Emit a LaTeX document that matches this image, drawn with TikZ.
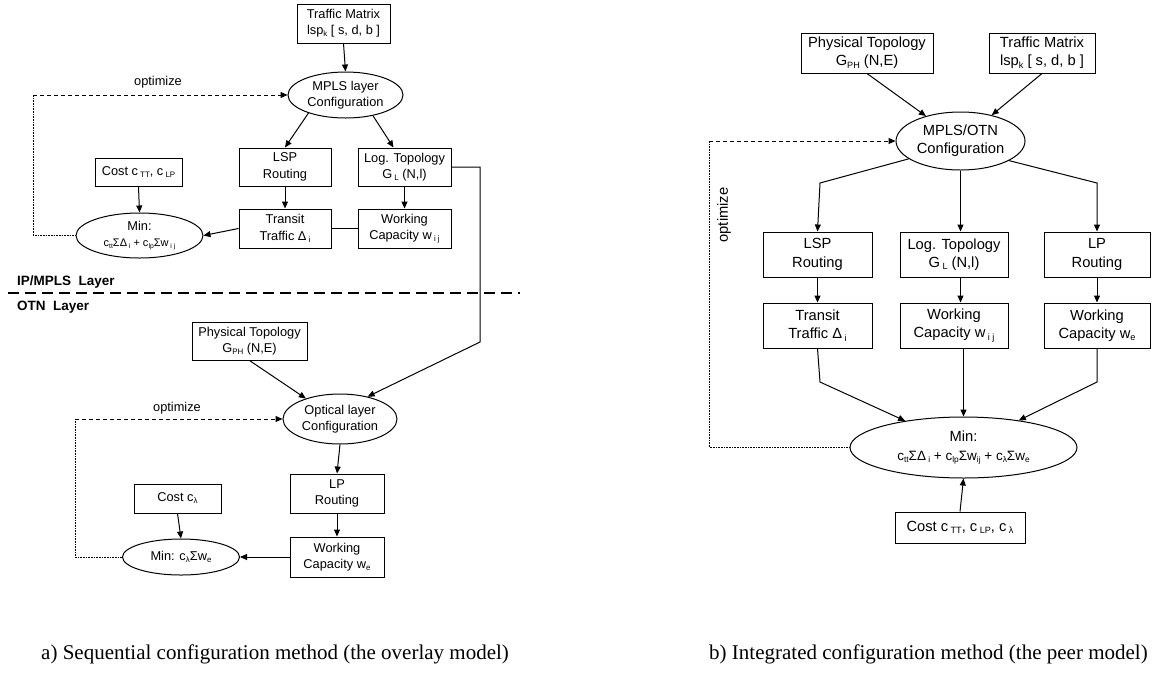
\documentclass[tikz,border=0pt]{standalone}
\usepackage{fontspec}
\setmainfont{Liberation Sans}
\newfontfamily\capfont{Liberation Serif}
\usepackage{graphicx}
\usetikzlibrary{shapes.geometric,arrows.meta}
\newcommand{\sbs}[1]{\raisebox{-0.3ex}{\scalebox{0.62}{#1}}}
\tikzset{
  box/.style={draw, fill=white, inner sep=0pt, align=center, line width=1pt},
  ell/.style={draw, ellipse, fill=white, inner sep=0pt, align=center, line width=1pt},
  fl/.style={font=\fontsize{12.8}{16.3}\selectfont},
  fr/.style={font=\fontsize{14.7}{18.3}\selectfont},
  arr/.style={-{Triangle[length=7pt,width=6pt]}, line width=1pt},
  optline/.style={dash pattern=on 4pt off 3pt},
  dotline/.style={dash pattern=on 0.8pt off 0.8pt, line width=0.8pt},
  layerlbl/.style={font=\fontsize{13.5}{16}\selectfont\bfseries, anchor=west, inner sep=0pt},
  caplbl/.style={font=\capfont\fontsize{21}{24}\selectfont, anchor=west, inner sep=0pt},
}
\begin{document}
\begin{tikzpicture}[x=1pt,y=-1pt]
\useasboundingbox (0,0) rectangle (1153,678);

% ---------------- left: overlay model ----------------
\node[box,fl,minimum width=93pt,minimum height=39pt] (tmL) at (343.5,23.5) {Traffic Matrix\\lsp\sbs{k} [ s, d, b ]};
\node[ell,fl,minimum width=115pt,minimum height=46pt] (mplsL) at (345.5,95) {MPLS layer\\Configuration};
\node[box,fl,minimum width=92pt,minimum height=38pt] (lspL) at (285,167) {LSP\\Routing};
\node[box,fl,minimum width=93pt,minimum height=38pt] (logL) at (404.5,167) {Log. Topology\\G\,\sbs{L} (N,l)};
\node[box,fl,minimum width=92pt,minimum height=39pt] (ttL) at (285,228.5) {Transit\\Traffic Δ\,\sbs{i}};
\node[box,fl,minimum width=93pt,minimum height=39pt] (wcL) at (404.5,228.5) {Working\\Capacity w\,\sbs{i j}};
\node[box,fl,minimum width=87pt,minimum height=28pt] (costL) at (138.5,172) {Cost c\,\sbs{TT}, c\,\sbs{LP}};
\node[ell,fl,minimum width=127pt,minimum height=45pt] (minL) at (139.5,235.5) {Min:\\{\fontsize{11}{14}\selectfont c\sbs{tt}ΣΔ\,\sbs{i} + c\sbs{lp}Σw\,\sbs{i j}}};
\node[fl] (optA) at (158,82) {optimize};

\node[layerlbl] (ipl) at (17,282) {IP/MPLS\ \ Layer};
\node[layerlbl] (otl) at (17,307) {OTN\ \ Layer};
\draw[line width=2.5pt, dash pattern=on 11pt off 6pt] (8,293) -- (520,293);

\node[box,fl,minimum width=115pt,minimum height=38pt] (phL) at (249.5,341) {Physical Topology\\G\sbs{PH} (N,E)};
\node[ell,fl,minimum width=114pt,minimum height=50pt] (optL) at (340,419) {Optical layer\\Configuration};
\node[box,fl,minimum width=94pt,minimum height=39pt] (lpL) at (337,493.5) {LP\\Routing};
\node[box,fl,minimum width=94pt,minimum height=40pt] (weL) at (337,557) {Working\\Capacity w\sbs{e}};
\node[box,fl,minimum width=87pt,minimum height=29pt] (costlL) at (177.5,498.5) {Cost c\sbs{λ}};
\node[ell,fl,minimum width=117pt,minimum height=36pt] (minlL) at (181,557) {Min: c\sbs{λ}Σw\sbs{e}};
\node[fl] (optB) at (177,408) {optimize};

\draw[arr] (tmL.south) -- (mplsL.north);
\draw[arr] (mplsL.206) -- (lspL.north);
\draw[arr] (mplsL.323) -- ([xshift=-11pt]logL.north);
\draw[arr] (lspL.south) -- (ttL.north);
\draw[arr] (logL.south) -- (wcL.north);
\draw[line width=1pt] (wcL.west) -- (ttL.east);
\draw[arr] (ttL.west) -- (minL.east);
\draw[arr] (costL.south) -- (minL.north);
\coordinate (lpA) at (33,95);
\draw[dotline] (minL.west) -| (lpA);
\draw[arr,optline] (lpA) -- (mplsL.west);

\draw[arr] (logL.east) -- (480,167) -- (480,342) -- (optL.39);
\draw[arr] (phL.south) -- (optL.149);
\draw[arr] (optL.south) -- (lpL.north);
\draw[arr] (lpL.south) -- (weL.north);
\draw[arr] (weL.west) -- (minlL.east);
\draw[arr] (costlL.south) -- (minlL.north);
\coordinate (lpB) at (75,419);
\draw[dotline] (minlL.west) -| (lpB);
\draw[arr,optline] (lpB) -- (optL.west);

% ---------------- right: peer model ----------------
\node[box,fr,minimum width=132pt,minimum height=40pt] (phR) at (867,53) {Physical Topology\\G\sbs{PH} (N,E)};
\node[box,fr,minimum width=106pt,minimum height=40pt] (tmR) at (1042,53) {Traffic Matrix\\lsp\sbs{k} [ s, d, b ]};
\node[ell,fr,minimum width=129pt,minimum height=58pt] (mplsR) at (960.5,141) {MPLS/OTN\\Configuration};
\node[box,fr,minimum width=109pt,minimum height=45pt] (lspR) at (817.5,254.5) {LSP\\Routing};
\node[box,fr,minimum width=108pt,minimum height=45pt] (logR) at (954,254.5) {Log. Topology\\G\,\sbs{L} (N,l)};
\node[box,fr,minimum width=106pt,minimum height=45pt] (lpR) at (1097,254.5) {LP\\Routing};
\node[box,fr,minimum width=109pt,minimum height=45pt] (ttR) at (817.5,325.5) {Transit\\Traffic Δ\,\sbs{i}};
\node[box,fr,minimum width=108pt,minimum height=45pt] (wijR) at (954,325.5) {Working\\Capacity w\,\sbs{i j}};
\node[box,fr,minimum width=106pt,minimum height=45pt] (weR) at (1097,325.5) {Working\\Capacity w\sbs{e}};
\node[ell,fr,minimum width=227pt,minimum height=61pt] (minR) at (963.5,447.5) {Min:\\{\fontsize{13.5}{16}\selectfont c\sbs{tt}ΣΔ\,\sbs{i} + c\sbs{lp}Σw\sbs{ij} + c\sbs{λ}Σw\sbs{e}}};
\node[box,fr,minimum width=130pt,minimum height=31pt] (costR) at (960,527.5) {Cost c\,\sbs{TT}, c\,\sbs{LP}, c\,\sbs{λ}};
\node[fr,rotate=90] (optC) at (724,215) {optimize};

\draw[arr] (phR.south) -- (mplsR);
\draw[arr] (tmR.south) -- (mplsR);
\draw[arr] (mplsR.199) -- (820,183) -- (lspR.north);
\draw[arr] (mplsR.south) -- (mplsR.south |- logR.north);
\draw[arr] (mplsR.338) -- (1097,183) -- (lpR.north);
\draw[arr] (lspR.south) -- (ttR.north);
\draw[arr] (logR.south -| mplsR.south) -- (wijR.north -| mplsR.south);
\draw[arr] (lpR.south) -- (weR.north);
\draw[arr] (ttR.south) -- (820,382) -- (minR);
\draw[arr] (wijR.south -| minR.north) -- (minR.north);
\draw[arr] (weR.south) -- (1097,382) -- (minR);
\draw[arr] (costR.north) -- (minR.south);
\coordinate (lpC) at (709,141);
\draw[dotline] (minR.west) -| (lpC);
\draw[arr,optline] (lpC) -- (mplsR.west);

% ---------------- captions ----------------
\node[caplbl] (capA) at (41,654) {a) Sequential configuration method (the overlay model)};
\node[caplbl] (capB) at (709,654) {b) Integrated configuration method (the peer model)};
\end{tikzpicture}
\end{document}
